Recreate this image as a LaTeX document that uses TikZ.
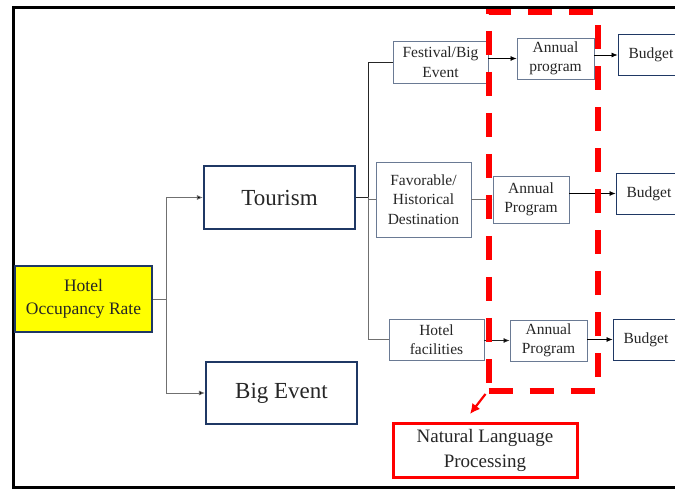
\documentclass[tikz,border=0pt]{standalone}
\usepackage{fontspec}
\setmainfont{Liberation Serif}
\usetikzlibrary{arrows.meta}
\definecolor{navy}{HTML}{1F3864}
\definecolor{schiefer}{HTML}{6A7A94}
\definecolor{liniengrau}{HTML}{707070}
\definecolor{textgrau}{HTML}{262626}
\definecolor{signalrot}{HTML}{FF0000}
\definecolor{signalgelb}{HTML}{FFFF00}

\begin{document}
\begin{tikzpicture}[x=1pt,y=-1pt,
    box/.style={draw=schiefer,line width=0.9pt,align=center,text=textgrau,inner sep=0pt,
      font=\fontsize{15.5}{19.5}\selectfont},
    budget/.style={box,draw=navy,minimum width=66pt,minimum height=41pt},
    annual/.style={box,minimum width=77pt,minimum height=41pt},
    mainbox/.style={draw=navy,line width=2.2pt,align=center,text=textgrau,inner sep=0pt,
      minimum width=151pt,minimum height=62pt,font=\fontsize{23}{27}\selectfont},
    link/.style={draw=liniengrau,line width=0.7pt},
    arrow/.style={link,-{Latex[length=6pt,width=5pt,fill=black]}}]
    \useasboundingbox (0,0) rectangle (675,489);
    \draw[line width=3pt] (700,7.5) -| (13,487) -- (700,487);

    \node[mainbox,fill=signalgelb,line width=2.6pt,minimum width=137pt,minimum height=66pt,
      font=\fontsize{17.5}{23}\selectfont] (hotel) at (83.5,299) {Hotel\\Occupancy Rate};
    \node[mainbox,minimum height=63pt] (tourism) at (279.5,197.5) {Tourism};
    \node[mainbox] (bigevent) at (281.5,393) {Big Event};

    \node[box,minimum width=95pt,minimum height=42pt] (festival) at (440.5,62) {Festival/Big\\Event};
    \node[box,minimum width=95pt,minimum height=75pt] (favorable) at (423.5,199.5) {Favorable/\\Historical\\Destination};
    \node[box,minimum width=95pt,minimum height=41pt] (facilities) at (436.5,339.5) {Hotel\\facilities};

    \node[annual] (annual1) at (555.5,58.5) {Annual\\program};
    \node[annual,minimum width=76pt,minimum height=47pt] (annual2) at (531,199.5) {Annual\\Program};
    \node[annual] (annual3) at (548.5,340.5) {Annual\\Program};

    \foreach \n/\x/\y in {1/651/55,2/649/193.5,3/646/339.5}{
      \node[budget] (budget\n) at (\x,\y) {Budget};
      \draw[arrow,draw=black] (annual\n.east |- budget\n) -- (budget\n.west);
    }

    \coordinate (split) at (166,299);
    \draw[link] (hotel.east) -- (split);
    \draw[arrow] (split) |- (tourism.west);
    \draw[arrow] (split) |- (bigevent.west);

    \coordinate (branch) at (368,197.5);
    \draw[link,draw=textgrau] (tourism.east) -- (branch);
    \draw[link,draw=textgrau] (branch) |- (festival.west);
    \draw[link] (branch) -- (branch |- favorable.west) -- (favorable.west);
    \draw[link] (branch) |- (facilities.west);

    \draw[arrow,draw=black] (festival.east |- annual1) -- (annual1.west);
    \draw[arrow] (favorable.east |- annual2) -- (annual2.west);
    \draw[arrow,draw=textgrau] (facilities.east |- annual3) -- (annual3.west);

    \node[draw=signalrot,line width=6pt,dash pattern=on 24pt off 17pt,inner sep=0pt,
      minimum width=109pt,minimum height=378.5pt] (nlpzone) at (543,201.75) {};
    \node[draw=signalrot,line width=3pt,align=center,text=textgrau,inner sep=0pt,
      minimum width=184pt,minimum height=54pt,font=\fontsize{19}{25}\selectfont]
      (nlp) at (485,450) {Natural Language\\Processing};
    \coordinate (nlptip) at (470,414);
    \draw[signalrot,line width=2.2pt,-{Latex[length=10pt,width=10pt]}] (nlpzone.south west) -- (nlptip);
\end{tikzpicture}
\end{document}
